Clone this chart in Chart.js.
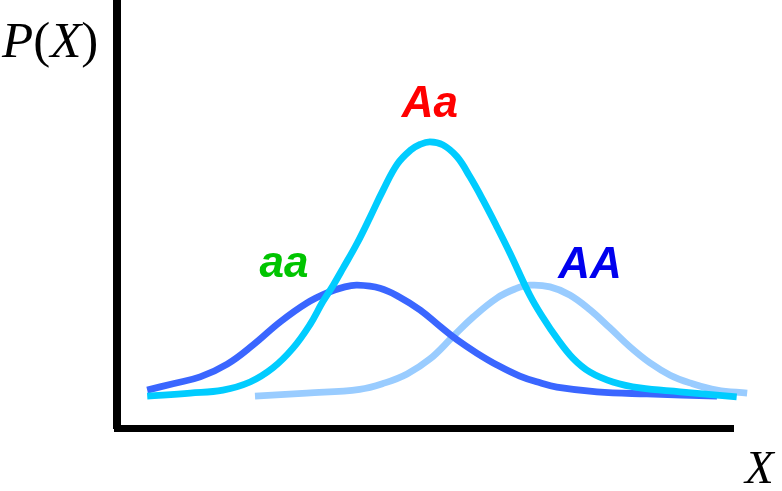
<!DOCTYPE html>
<html>
<head>
<meta charset="utf-8">
<title>P(X)</title>
<script src="https://cdn.jsdelivr.net/npm/chart.js@4"></script>
<style>
	html, body { margin: 0; padding: 0; background: #fff; }
	#wrap { width: 782px; height: 491px; position: relative; }
</style>
</head>
<body>
<div id="wrap"><canvas id="chart-1"></canvas></div>
<script>
// genotype curves, read as (X, P) pairs
const aaX = [0.49, 0.91, 1.35, 1.79, 2.21, 2.65, 3.08, 3.41, 3.70, 3.90, 4.27, 4.59, 4.92, 5.24, 5.52, 5.84, 6.17, 6.54, 6.87, 7.14, 7.79, 8.60, 9.74];
const aaP = [0.090, 0.105, 0.121, 0.151, 0.196, 0.250, 0.294, 0.318, 0.332, 0.336, 0.329, 0.308, 0.278, 0.240, 0.208, 0.177, 0.149, 0.123, 0.107, 0.097, 0.086, 0.081, 0.076];

const AaX = [0.49, 1.19, 1.72, 2.16, 2.53, 2.86, 3.13, 3.34, 3.51, 3.67, 3.90, 4.11, 4.32, 4.55, 4.76, 4.92, 5.08, 5.29, 5.52, 5.73, 5.94, 6.17, 6.38, 6.70, 6.92, 7.14, 7.40, 7.68, 8.05, 8.49, 9.14, 10.06];
const AaP = [0.076, 0.083, 0.090, 0.109, 0.142, 0.189, 0.243, 0.297, 0.336, 0.376, 0.435, 0.496, 0.559, 0.620, 0.652, 0.666, 0.672, 0.665, 0.637, 0.590, 0.536, 0.472, 0.411, 0.313, 0.259, 0.212, 0.165, 0.132, 0.109, 0.095, 0.086, 0.074];

const AAX = [2.24, 3.08, 3.94, 4.35, 4.71, 5.08, 5.45, 5.78, 6.17, 6.46, 6.70, 7.03, 7.35, 7.68, 8.00, 8.33, 8.65, 8.98, 9.30, 9.74, 10.23];
const AAP = [0.076, 0.083, 0.092, 0.107, 0.128, 0.163, 0.215, 0.261, 0.306, 0.327, 0.336, 0.332, 0.313, 0.278, 0.236, 0.191, 0.154, 0.125, 0.107, 0.090, 0.083];

// curve labels: text, X, P of baseline, colour
const curveLabels = [
	{ text: "Aa", x: 5.08, p: 0.730, color: "#ff0000" },
	{ text: "aa", x: 2.71, p: 0.355, color: "#00c400" },
	{ text: "AA", x: 7.68, p: 0.353, color: "#0000ee" },
];

const toPoints = (xs, ps) => xs.map((x, i) => ({ x: x, y: ps[i] }));

// italic letters, upright brackets
function drawMath(ctx, parts, x, y, size) {
	parts.forEach(([s, italic]) => {
		ctx.font = (italic ? "italic " : "") + size + "px 'Liberation Serif', 'Times New Roman', serif";
		ctx.fillText(s, x, y);
		x += ctx.measureText(s).width;
	});
}

const labelPlugin = {
	id: "labelPlugin",
	afterDraw(chart) {
		const ctx = chart.ctx;
		const xs = chart.scales.x;
		const ys = chart.scales.y;
		ctx.save();
		ctx.textBaseline = "alphabetic";

		ctx.font = "italic bold 44px 'Liberation Sans', Arial, sans-serif";
		ctx.textAlign = "center";
		curveLabels.forEach(l => {
			ctx.fillStyle = l.color;
			ctx.fillText(l.text, xs.getPixelForValue(l.x), ys.getPixelForValue(l.p));
		});

		ctx.fillStyle = "#000";
		ctx.textAlign = "left";
		drawMath(ctx, [["P", true], ["(", false], ["X", true], [")", false]], 2, 57, 51);
		drawMath(ctx, [["X", true]], 745, 483, 47);
		ctx.restore();
	}
};

const lineStyle = {
	pointRadius: 0,
	borderWidth: 6.8,
	fill: false,
	clip: false,
	tension: 0.4,
};

new Chart("chart-1", {
	type: "line",
	data: {
		datasets: [
			{ label: "Aa", data: toPoints(AaX, AaP), borderColor: "#00ccff", ...lineStyle },
			{ label: "aa", data: toPoints(aaX, aaP), borderColor: "#3a66ff", ...lineStyle },
			{ label: "AA", data: toPoints(AAX, AAP), borderColor: "#99ccff", ...lineStyle },
		]
	},
	options: {
		responsive: true,
		maintainAspectRatio: false,
		animation: false,
		layout: { padding: { left: 117, right: 49, top: 2, bottom: 62.5 } },
		plugins: { legend: { display: false }, tooltip: { enabled: false } },
		scales: {
			x: {
				type: "linear", min: 0, max: 10,
				ticks: { display: false },
				grid: { display: false, drawTicks: false },
				border: { display: true, color: "#000", width: 7 },
			},
			y: {
				type: "linear", min: 0, max: 1,
				ticks: { display: false },
				grid: { display: false, drawTicks: false },
				border: { display: true, color: "#000", width: 8 },
			}
		}
	},
	plugins: [labelPlugin]
});
</script>
</body>
</html>
